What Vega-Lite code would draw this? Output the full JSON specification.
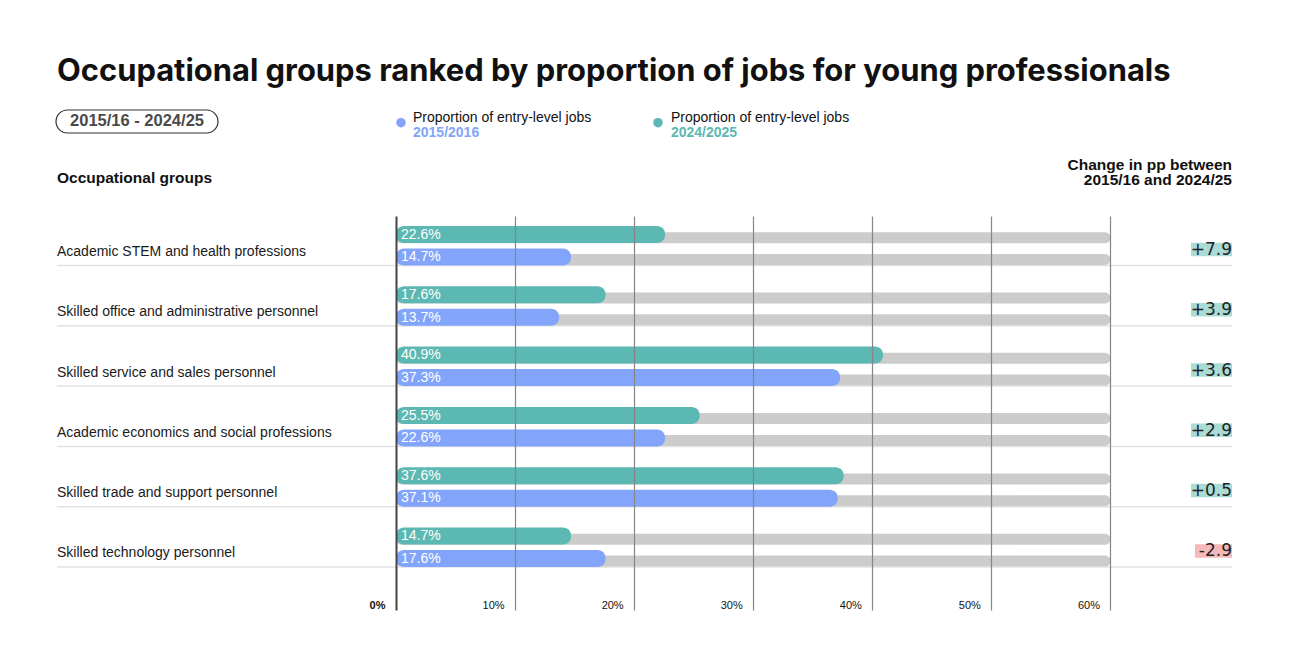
{
  "$schema": "https://vega.github.io/schema/vega-lite/v6.json",
  "width": 1175,
  "height": 394,
  "autosize": "none",
  "padding": {"left": 57, "top": 216, "right": 57, "bottom": 57},
  "background": "white",
  "config": {"view": {"stroke": null}, "font": "Liberation Sans"},
  "title": {
    "text": "Occupational groups ranked by proportion of jobs for young professionals",
    "anchor": "start",
    "frame": "group",
    "orient": "top",
    "font": "Inter",
    "fontSize": 30.9,
    "fontWeight": "bold",
    "color": "#111111",
    "offset": 21
  },
  "datasets": {
    "groups": [
      {"group": "Academic STEM and health professions", "rank": 1, "p2015": 0.147, "p2024": 0.226, "change": 7.9, "changeLabel": "+7.9"},
      {"group": "Skilled office and administrative personnel", "rank": 2, "p2015": 0.137, "p2024": 0.176, "change": 3.9, "changeLabel": "+3.9"},
      {"group": "Skilled service and sales personnel", "rank": 3, "p2015": 0.373, "p2024": 0.409, "change": 3.6, "changeLabel": "+3.6"},
      {"group": "Academic economics and social professions", "rank": 4, "p2015": 0.226, "p2024": 0.255, "change": 2.9, "changeLabel": "+2.9"},
      {"group": "Skilled trade and support personnel", "rank": 5, "p2015": 0.371, "p2024": 0.376, "change": 0.5, "changeLabel": "+0.5"},
      {"group": "Skilled technology personnel", "rank": 6, "p2015": 0.176, "p2024": 0.147, "change": -2.9, "changeLabel": "-2.9"}
    ],
    "notes": [
      {"id": "pill", "text": "2015/16 - 2024/25"},
      {"id": "occ", "text": "Occupational groups"},
      {"id": "chg1", "text": "Change in pp between"},
      {"id": "chg2", "text": "2015/16 and 2024/25"},
      {"id": "leg", "text": "Proportion of entry-level jobs"},
      {"id": "yr2015", "text": "2015/2016"},
      {"id": "yr2024", "text": "2024/2025"}
    ]
  },
  "layer": [
    {
      "data": {"name": "groups"},
      "mark": {"type": "rule", "color": "#e2e2e2", "strokeWidth": 1.5, "yOffset": 19.5},
      "encoding": {
        "x": {"datum": -0.28468, "type": "quantitative"},
        "x2": {"datum": 0.70205},
        "y": {"field": "rank", "type": "quantitative", "scale": {"domain": [0.5025, 7.0365], "reverse": true, "nice": false, "zero": false, "padding": 0}, "axis": null}
      }
    },
    {
      "data": {"name": "groups"},
      "mark": {"type": "bar", "color": "#cccccc", "height": 11, "yOffset": -8.3, "cornerRadiusEnd": 5.5},
      "encoding": {
        "x": {"datum": 0.6, "type": "quantitative"},
        "x2": {"datum": 0},
        "y": {"field": "rank", "type": "quantitative"}
      }
    },
    {
      "data": {"name": "groups"},
      "mark": {"type": "bar", "color": "#cccccc", "height": 11, "yOffset": 13.5, "cornerRadiusEnd": 5.5},
      "encoding": {
        "x": {"datum": 0.6, "type": "quantitative"},
        "x2": {"datum": 0},
        "y": {"field": "rank", "type": "quantitative"}
      }
    },
    {
      "data": {"name": "groups"},
      "mark": {"type": "bar", "color": "#5cb8b2", "height": 17, "yOffset": -11.5, "cornerRadiusEnd": 8},
      "encoding": {
        "x": {
          "field": "p2024", "type": "quantitative",
          "scale": {"domain": [-0.28468, 0.70205], "nice": false, "zero": false, "padding": 0},
          "axis": {
            "orient": "bottom", "title": null, "values": [0, 0.1, 0.2, 0.3, 0.4, 0.5, 0.6], "format": ".0%",
            "grid": true, "domain": false, "ticks": false, "tickSize": 0,
            "labelPadding": -2, "labelBaseline": "alphabetic", "labelAlign": "right", "labelOffset": -11,
            "labelFontSize": 11, "labelColor": "#111111", "labelFont": "Liberation Sans",
            "labelFontWeight": {"condition": {"test": "datum.value === 0", "value": "bold"}, "value": "normal"},
            "gridColor": {"condition": {"test": "datum.value === 0", "value": "#444444"}, "value": "#858585"},
            "gridWidth": {"condition": {"test": "datum.value === 0", "value": 2}, "value": 1.2},
            "gridOpacity": 1, "zindex": 1
          }
        },
        "x2": {"datum": 0},
        "y": {"field": "rank", "type": "quantitative"}
      }
    },
    {
      "data": {"name": "groups"},
      "mark": {"type": "bar", "color": "#82a5fb", "height": 17, "yOffset": 11, "cornerRadiusEnd": 8},
      "encoding": {
        "x": {"field": "p2015", "type": "quantitative"},
        "x2": {"datum": 0},
        "y": {"field": "rank", "type": "quantitative"}
      }
    },
    {
      "data": {"name": "groups"},
      "mark": {"type": "text", "color": "white", "fontSize": 14, "align": "left", "baseline": "middle", "dx": 5, "yOffset": -11.2},
      "encoding": {
        "x": {"datum": 0, "type": "quantitative"},
        "y": {"field": "rank", "type": "quantitative"},
        "text": {"field": "p2024", "type": "quantitative", "format": ".1%"}
      }
    },
    {
      "data": {"name": "groups"},
      "mark": {"type": "text", "color": "white", "fontSize": 14, "align": "left", "baseline": "middle", "dx": 5, "yOffset": 11.3},
      "encoding": {
        "x": {"datum": 0, "type": "quantitative"},
        "y": {"field": "rank", "type": "quantitative"},
        "text": {"field": "p2015", "type": "quantitative", "format": ".1%"}
      }
    },
    {
      "data": {"name": "groups"},
      "mark": {"type": "text", "color": "#1a1a1a", "fontSize": 14, "align": "left", "baseline": "alphabetic", "yOffset": 10},
      "encoding": {
        "x": {"datum": -0.28468, "type": "quantitative"},
        "y": {"field": "rank", "type": "quantitative"},
        "text": {"field": "group", "type": "nominal"}
      }
    },
    {
      "data": {"name": "groups"},
      "transform": [{"filter": "datum.change >= 0"}],
      "mark": {"type": "bar", "color": "#a9dcd6", "height": 13.5, "yOffset": 3.4},
      "encoding": {
        "x": {"datum": 0.6676, "type": "quantitative"},
        "x2": {"datum": 0.70205},
        "y": {"field": "rank", "type": "quantitative"}
      }
    },
    {
      "data": {"name": "groups"},
      "transform": [{"filter": "datum.change < 0"}],
      "mark": {"type": "bar", "color": "#f5b9b9", "height": 13.5, "yOffset": 3.4},
      "encoding": {
        "x": {"datum": 0.671, "type": "quantitative"},
        "x2": {"datum": 0.70205},
        "y": {"field": "rank", "type": "quantitative"}
      }
    },
    {
      "data": {"name": "groups"},
      "mark": {"type": "text", "color": "#222222", "font": "DejaVu Sans", "fontSize": 17, "align": "right", "baseline": "alphabetic", "yOffset": 9},
      "encoding": {
        "x": {"datum": 0.70205, "type": "quantitative"},
        "y": {"field": "rank", "type": "quantitative"},
        "text": {"field": "changeLabel", "type": "nominal"}
      }
    },
    {
      "data": {"name": "notes"},
      "transform": [{"filter": "datum.id === 'pill'"}],
      "mark": {"type": "rect", "fill": "white", "stroke": "#333333", "strokeWidth": 1.2, "cornerRadius": 11.5},
      "encoding": {
        "x": {"datum": -0.28552, "type": "quantitative"},
        "x2": {"datum": -0.14948},
        "y": {"datum": -1.2554, "type": "quantitative"},
        "y2": {"datum": -0.874}
      }
    },
    {
      "data": {"name": "notes"},
      "transform": [{"filter": "datum.id === 'pill'"}],
      "mark": {"type": "text", "color": "#4a4a4a", "fontSize": 16.5, "fontWeight": "bold", "align": "center", "baseline": "middle"},
      "encoding": {
        "x": {"datum": -0.2175, "type": "quantitative"},
        "y": {"datum": -1.0647, "type": "quantitative"},
        "text": {"field": "text", "type": "nominal"}
      }
    },
    {
      "data": {"name": "notes"},
      "transform": [{"filter": "datum.id === 'occ'"}],
      "mark": {"type": "text", "color": "#111111", "fontSize": 15.5, "fontWeight": "bold", "align": "left", "baseline": "alphabetic"},
      "encoding": {
        "x": {"datum": -0.28468, "type": "quantitative"},
        "y": {"datum": -0.0448, "type": "quantitative"},
        "text": {"field": "text", "type": "nominal"}
      }
    },
    {
      "data": {"name": "notes"},
      "transform": [{"filter": "datum.id === 'chg1'"}],
      "mark": {"type": "text", "color": "#111111", "fontSize": 15.5, "fontWeight": "bold", "align": "right", "baseline": "alphabetic"},
      "encoding": {
        "x": {"datum": 0.70205, "type": "quantitative"},
        "y": {"datum": -0.2686, "type": "quantitative"},
        "text": {"field": "text", "type": "nominal"}
      }
    },
    {
      "data": {"name": "notes"},
      "transform": [{"filter": "datum.id === 'chg2'"}],
      "mark": {"type": "text", "color": "#111111", "fontSize": 15.5, "fontWeight": "bold", "align": "right", "baseline": "alphabetic"},
      "encoding": {
        "x": {"datum": 0.70205, "type": "quantitative"},
        "y": {"datum": -0.0116, "type": "quantitative"},
        "text": {"field": "text", "type": "nominal"}
      }
    },
    {
      "data": {"name": "notes"},
      "transform": [{"filter": "datum.id === 'yr2015'"}],
      "mark": {"type": "point", "filled": true, "shape": "circle", "size": 90, "color": "#82a5fb", "opacity": 1},
      "encoding": {
        "x": {"datum": 0.0042, "type": "quantitative"},
        "y": {"datum": -1.0447, "type": "quantitative"}
      }
    },
    {
      "data": {"name": "notes"},
      "transform": [{"filter": "datum.id === 'yr2024'"}],
      "mark": {"type": "point", "filled": true, "shape": "circle", "size": 90, "color": "#5cb8b2", "opacity": 1},
      "encoding": {
        "x": {"datum": 0.22, "type": "quantitative"},
        "y": {"datum": -1.0447, "type": "quantitative"}
      }
    },
    {
      "data": {"name": "notes"},
      "transform": [{"filter": "datum.id === 'leg'"}],
      "mark": {"type": "text", "color": "#111111", "fontSize": 14, "align": "left", "baseline": "alphabetic"},
      "encoding": {
        "x": {"datum": 0.01428, "type": "quantitative"},
        "y": {"datum": -1.0613, "type": "quantitative"},
        "text": {"field": "text", "type": "nominal"}
      }
    },
    {
      "data": {"name": "notes"},
      "transform": [{"filter": "datum.id === 'leg'"}],
      "mark": {"type": "text", "color": "#111111", "fontSize": 14, "align": "left", "baseline": "alphabetic"},
      "encoding": {
        "x": {"datum": 0.2309, "type": "quantitative"},
        "y": {"datum": -1.0613, "type": "quantitative"},
        "text": {"field": "text", "type": "nominal"}
      }
    },
    {
      "data": {"name": "notes"},
      "transform": [{"filter": "datum.id === 'yr2015'"}],
      "mark": {"type": "text", "color": "#82a5fb", "fontSize": 14, "fontWeight": "bold", "align": "left", "baseline": "alphabetic"},
      "encoding": {
        "x": {"datum": 0.01428, "type": "quantitative"},
        "y": {"datum": -0.8076, "type": "quantitative"},
        "text": {"field": "text", "type": "nominal"}
      }
    },
    {
      "data": {"name": "notes"},
      "transform": [{"filter": "datum.id === 'yr2024'"}],
      "mark": {"type": "text", "color": "#5cb8b2", "fontSize": 14, "fontWeight": "bold", "align": "left", "baseline": "alphabetic"},
      "encoding": {
        "x": {"datum": 0.2309, "type": "quantitative"},
        "y": {"datum": -0.8076, "type": "quantitative"},
        "text": {"field": "text", "type": "nominal"}
      }
    }
  ]
}
